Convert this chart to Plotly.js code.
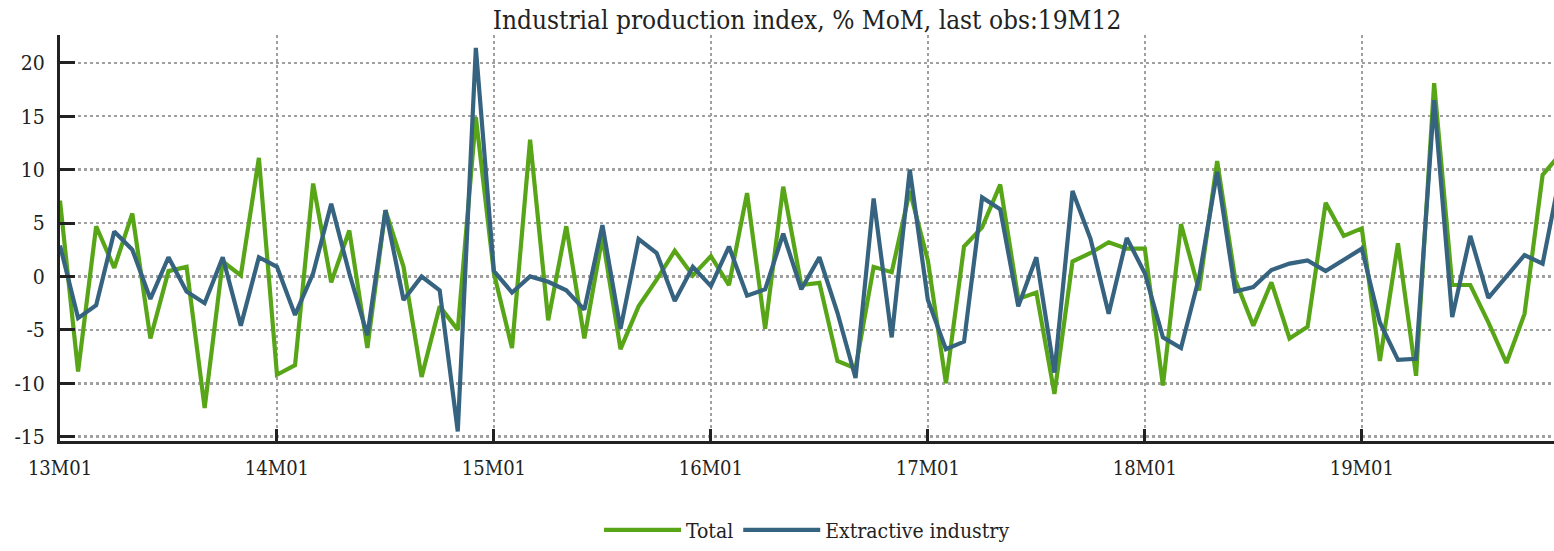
<!DOCTYPE html>
<html>
<head>
<meta charset="utf-8">
<script src="https://cdn.plot.ly/plotly-3.0.1.min.js"></script>
<style>
html,body{margin:0;padding:0;overflow:hidden;background:#fff;}
#chart{width:1554px;height:551px;}
</style>
</head>
<body>
<div id="chart"></div>
<script>
// Month categories 13M01 .. 19M12
const months = [];
for (let y = 13; y <= 19; y++) {
  for (let m = 1; m <= 12; m++) {
    months.push(y + 'M' + (m < 10 ? '0' + m : '' + m));
  }
}

const totalValues = [
  7.1, -8.9, 4.7, 0.8, 5.9, -5.8, 0.5, 0.9, -12.3, 1.4, 0.1, 11.1,
  -9.2, -8.3, 8.7, -0.55, 4.3, -6.7, 6.2, 0.9, -9.4, -2.8, -5.0, 14.9,
  0.3, -6.7, 12.8, -4.1, 4.7, -5.8, 3.7, -6.8, -2.8, -0.3, 2.4, 0.1,
  1.9, -0.8, 7.8, -4.9, 8.4, -0.8, -0.6, -7.9, -8.6, 0.9, 0.4, 8.0,
  1.5, -10.0, 2.8, 4.6, 8.6, -2.1, -1.5, -11.0, 1.4, 2.2, 3.2, 2.6,
  2.6, -10.2, 4.9, -1.3, 10.8, -0.3, -4.6, -0.55, -5.8, -4.7, 6.9, 3.8,
  4.5, -7.9, 3.1, -9.3, 18.1, -0.8, -0.8, -4.3, -8.1, -3.5, 9.5, 11.5
];

const extractiveValues = [
  2.9, -3.9, -2.7, 4.2, 2.5, -2.1, 1.8, -1.4, -2.5, 1.8, -4.6, 1.8,
  0.9, -3.6, 0.3, 6.8, 0.3, -5.5, 6.2, -2.2, 0.0, -1.3, -14.5, 21.4,
  0.5, -1.5, 0.0, -0.5, -1.3, -3.1, 4.8, -4.9, 3.5, 2.2, -2.3, 0.9,
  -0.9, 2.8, -1.8, -1.2, 4.0, -1.2, 1.8, -3.4, -9.5, 7.3, -5.7, 10.0,
  -2.2, -6.8, -6.1, 7.4, 6.3, -2.8, 1.8, -9.0, 8.0, 3.5, -3.5, 3.6,
  0.3, -5.7, -6.7, -0.1, 9.8, -1.4, -1.0, 0.6, 1.2, 1.5, 0.5, 1.6,
  2.6, -4.3, -7.8, -7.7, 16.5, -3.8, 3.8, -2.0, 0.0, 2.0, 1.2, 9.8
];

const xTickLabels = ['13M01', '14M01', '15M01', '16M01', '17M01', '18M01', '19M01'];
const yTickVals = [-15, -10, -5, 0, 5, 10, 15, 20];
const yTickText = ['-15', '-10', '-5', '0', '5', '10', '15', '20'];

const seriesNames = ['Total', 'Extractive industry'];
const seriesColors = ['#58a618', '#36637f'];

const FONT = 'DejaVu Serif Condensed';
const INK = '#222222';
const GRID = '#a0a0a0';

const traces = [
  {
    x: months, y: totalValues, type: 'scatter', mode: 'lines',
    name: seriesNames[0], line: {color: seriesColors[0], width: 4.2}
  },
  {
    x: months, y: extractiveValues, type: 'scatter', mode: 'lines',
    name: seriesNames[1], line: {color: seriesColors[1], width: 4.2}
  }
];

const layout = {
  width: 1554, height: 551,
  margin: {l: 60, r: 0, t: 35, b: 104, pad: 0},
  paper_bgcolor: '#ffffff', plot_bgcolor: '#ffffff',
  font: {family: FONT, color: INK, size: 21},
  title: {
    text: 'Industrial production index, % MoM, last obs:19M12',
    font: {family: FONT, size: 26, color: INK},
    x: 0.5, xref: 'paper', xanchor: 'center',
    y: 0.964, yref: 'container', yanchor: 'middle', pad: {t: 0, b: 0}
  },
  xaxis: {
    type: 'category',
    range: [0, 82.63],
    tickmode: 'array', tickvals: xTickLabels, ticktext: xTickLabels,
    ticks: 'inside', ticklen: 12, tickwidth: 3, tickcolor: INK,
    showline: true, linewidth: 3, linecolor: INK,
    showgrid: true, gridcolor: GRID, gridwidth: 2.5, griddash: 'dot',
    zeroline: false,
    tickfont: {family: FONT, size: 20, color: INK},
    ticklabelstandoff: 7,
    fixedrange: true
  },
  yaxis: {
    range: [-15.4, 22.6],
    tickmode: 'array', tickvals: yTickVals, ticktext: yTickText,
    ticks: 'inside', ticklen: 15, tickwidth: 3, tickcolor: INK,
    showline: true, linewidth: 3, linecolor: INK,
    showgrid: true, gridcolor: GRID, gridwidth: 2.5, griddash: 'dot',
    zeroline: false,
    tickfont: {family: FONT, size: 21, color: INK},
    ticklabelstandoff: 8,
    fixedrange: true
  },
  showlegend: true,
  legend: {
    orientation: 'h',
    x: 0.5, xanchor: 'center', xref: 'paper',
    y: -0.22, yanchor: 'middle',
    font: {family: FONT, size: 21, color: INK},
    bgcolor: 'rgba(0,0,0,0)',
    itemwidth: 77
  }
};

Plotly.newPlot('chart', traces, layout, {staticPlot: true, displayModeBar: false});
</script>
</body>
</html>
